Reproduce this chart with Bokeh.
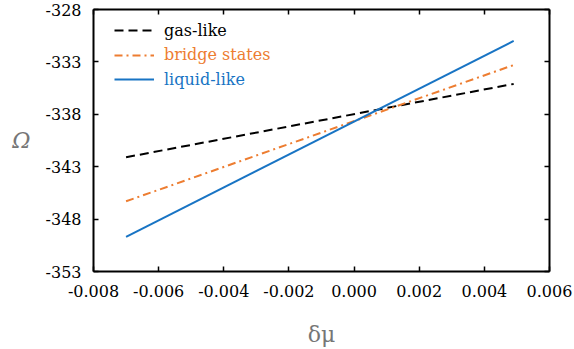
from bokeh.plotting import figure
from bokeh.models import LinearAxis, FixedTicker, NumeralTickFormatter, Range1d, Legend, LegendItem
from bokeh.embed import file_html
from bokeh.resources import INLINE

# data
x_vals = [-0.007, 0.0049]
gas_like = [-342.1, -335.1]
bridge_states = [-346.3, -333.3]
liquid_like = [-349.7, -331.0]
x_ticks = [-0.008, -0.006, -0.004, -0.002, 0.0, 0.002, 0.004, 0.006]
y_ticks = [-353, -348, -343, -338, -333, -328]
series_labels = ["gas-like", "bridge states", "liquid-like"]
series_colors = ["black", "#ED7D31", "#1874C4"]

FONT = "DejaVu Serif"

p = figure(width=574, height=349, output_backend="svg", toolbar_location=None,
           x_range=Range1d(-0.008, 0.006), y_range=Range1d(-353, -328),
           min_border_left=93, min_border_right=25, min_border_top=9, min_border_bottom=76,
           x_axis_label="δμ", y_axis_label="Ω")
p.grid.visible = False
p.outline_line_color = None
p.background_fill_color = "white"
p.border_fill_color = "white"

p.add_layout(LinearAxis(), "above")
p.add_layout(LinearAxis(), "right")

for ax in p.axis:
    ax.axis_line_width = 2
    ax.axis_line_color = "black"
    ax.major_tick_in = 5
    ax.major_tick_out = 0
    ax.major_tick_line_width = 1.5
    ax.minor_tick_line_color = None
    ax.major_label_text_font = FONT
    ax.major_label_text_font_size = "16px"
    ax.major_label_text_color = "black"
    ax.axis_label_text_font = FONT
    ax.axis_label_text_font_size = "22px"
    ax.axis_label_text_color = "#767676"

for ax in p.xaxis:
    ax.ticker = FixedTicker(ticks=x_ticks)
    ax.formatter = NumeralTickFormatter(format="0.000")
for ax in p.yaxis:
    ax.ticker = FixedTicker(ticks=y_ticks)
    ax.formatter = NumeralTickFormatter(format="0")

p.below[0].major_label_standoff = 13
p.below[0].axis_label_standoff = 22
p.below[0].axis_label_text_font_style = "normal"
p.left[0].major_label_standoff = 12
p.left[0].axis_label_standoff = 12
p.left[0].axis_label_text_font_style = "italic"
p.left[0].axis_label_orientation = "normal"

for ax in (p.above[0], p.right[0]):
    ax.major_label_text_color = None
    ax.major_label_text_font_size = "1px"
    ax.major_label_standoff = 0

r_gas = p.line(x_vals, gas_like, line_color=series_colors[0], line_width=2, line_dash="9 5")
r_bridge = p.line(x_vals, bridge_states, line_color=series_colors[1], line_width=2, line_dash="8 4 2 4")
r_liquid = p.line(x_vals, liquid_like, line_color=series_colors[2], line_width=2)
renderers = [r_gas, r_bridge, r_liquid]

for i, (lab, col, r) in enumerate(zip(series_labels, series_colors, renderers)):
    lg = Legend(items=[LegendItem(label=lab, renderers=[r])], location=(21, 180 + 24.5 * (2 - i)))
    lg.margin = 0
    lg.padding = 0
    lg.spacing = 0
    lg.border_line_color = None
    lg.background_fill_alpha = 0
    lg.label_text_font = FONT
    lg.label_text_font_size = "16px"
    lg.label_text_color = col
    lg.label_height = 24
    lg.glyph_height = 24
    lg.glyph_width = 40
    lg.label_standoff = 10
    p.add_layout(lg, "center")

open("out.html", "w").write(file_html(p, INLINE))
